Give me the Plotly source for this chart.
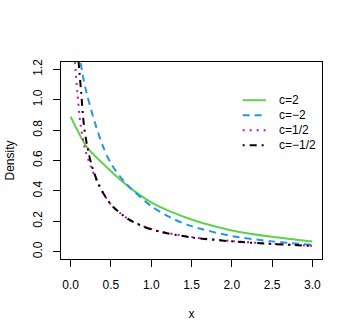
import plotly.graph_objects as go

# values
x_c2 = [0, 0.2, 0.4, 0.5, 0.75, 1.0, 1.25, 1.5, 1.75, 2.0, 2.5, 3.0]
d_c2 = [0.889, 0.69, 0.58, 0.53, 0.415, 0.325, 0.262, 0.212, 0.172, 0.14, 0.098, 0.067]

x_cm2 = [0.10, 0.125, 0.15, 0.2, 0.3, 0.4, 0.5, 0.65, 0.75, 1.0, 1.25, 1.5, 2.0, 2.5, 3.0]
d_cm2 = [1.32, 1.24, 1.16, 1.04, 0.85, 0.695, 0.58, 0.47, 0.415, 0.30, 0.222, 0.168, 0.103, 0.068, 0.045]

x_ch = [0.04, 0.054, 0.083, 0.124, 0.186, 0.25, 0.33, 0.4, 0.5, 0.7, 0.9, 1.1, 1.5, 2.0, 2.5, 3.0]
d_ch = [1.34, 1.24, 1.05, 0.83, 0.66, 0.56, 0.46, 0.39, 0.31, 0.22, 0.168, 0.135, 0.096, 0.07, 0.052, 0.039]

x_cmh = [0.09, 0.10, 0.13, 0.165, 0.207, 0.26, 0.33, 0.4, 0.5, 0.7, 0.9, 1.1, 1.5, 2.0, 2.5, 3.0]
d_cmh = [1.30, 1.24, 1.05, 0.83, 0.69, 0.57, 0.465, 0.39, 0.31, 0.22, 0.166, 0.133, 0.094, 0.068, 0.051, 0.038]

x_ticks = [0, 0.5, 1.0, 1.5, 2.0, 2.5, 3.0]
x_ticklabels = ["0.0", "0.5", "1.0", "1.5", "2.0", "2.5", "3.0"]
y_ticks = [0, 0.2, 0.4, 0.6, 0.8, 1.0, 1.2]
y_ticklabels = ["0.0", "0.2", "0.4", "0.6", "0.8", "1.0", "1.2"]

FONT = "Liberation Sans, Arial, Helvetica, sans-serif"

series = [
    ("c=2", x_c2, d_c2, "#61D04F", "solid"),
    ("c=\u22122", x_cm2, d_cm2, "#2297E6", "7px,5px"),
    ("c=1/2", x_ch, d_ch, "#CD0BBC", "2px,5px"),
    ("c=\u22121/2", x_cmh, d_cmh, "#000000", "2px,5px,7px,5px"),
]

fig = go.Figure()
for name, xs, ys, color, dash in series:
    fig.add_trace(
        go.Scatter(
            x=xs,
            y=ys,
            mode="lines",
            name=name,
            showlegend=False,
            hoverinfo="skip",
            line=dict(color=color, width=2, dash=dash, shape="spline", smoothing=0.8),
        )
    )

# R-style legend (no frame): short line keys with text to the right
for i, (name, xs, ys, color, dash) in enumerate(series):
    yk = 0.806 - i * 0.076
    fig.add_shape(
        type="line", xref="paper", yref="paper",
        x0=0.696, x1=0.785, y0=yk, y1=yk,
        line=dict(color=color, width=2, dash=dash),
    )
    fig.add_annotation(
        xref="paper", yref="paper", x=0.826, y=yk,
        text=name, showarrow=False, xanchor="left", yanchor="middle",
        font=dict(family=FONT, size=12, color="black"),
    )

axis_common = dict(
    showgrid=False,
    zeroline=False,
    showline=True,
    mirror=True,
    automargin=False,
    linecolor="black",
    linewidth=1,
    ticks="outside",
    ticklen=7,
    tickwidth=1,
    tickcolor="black",
    tickfont=dict(family=FONT, size=12, color="black"),
)

fig.update_xaxes(
    range=[-0.12, 3.12],
    tickvals=x_ticks,
    ticktext=x_ticklabels,
    ticklabelstandoff=8,
    title=dict(text="x", font=dict(family=FONT, size=12, color="black"), standoff=18),
    **axis_common,
)
fig.update_yaxes(
    range=[-0.048, 1.248],
    tickvals=y_ticks,
    ticktext=y_ticklabels,
    tickangle=-90,
    ticklabelstandoff=6,
    title=dict(text="Density", font=dict(family=FONT, size=12, color="black"), standoff=14),
    **axis_common,
)

fig.update_layout(
    width=354,
    height=336,
    margin=dict(l=61, r=32, t=62, b=77),
    plot_bgcolor="white",
    paper_bgcolor="white",
    font=dict(family=FONT, size=12, color="black"),
    showlegend=False,
)

# drop the browser's default body margin so the figure sits at the page origin
fig.write_html(
    "out.html",
    config={"displayModeBar": False, "staticPlot": True},
    post_script="document.body.style.margin = '0';",
)
